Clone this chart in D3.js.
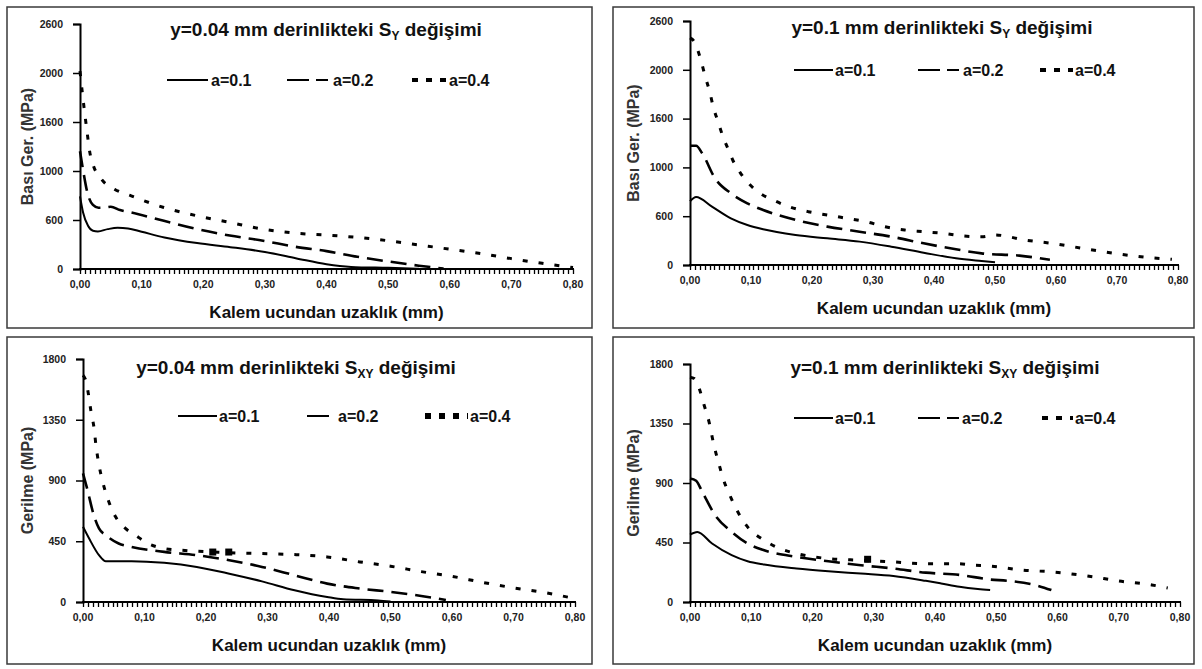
<!DOCTYPE html>
<html>
<head>
<meta charset="utf-8">
<script src="https://cdn.jsdelivr.net/npm/d3@7"></script>
<style>
  body { margin: 0; background: #fff; }
  svg { display: block; font-family: "Liberation Sans", Arial, sans-serif; }
</style>
</head>
<body>
<div id="container"></div>
<script>
// tick values and labels
var xTicks = [0, 0.1, 0.2, 0.3, 0.4, 0.5, 0.6, 0.7, 0.8];
var yTicksSY = [0, 520, 1040, 1560, 2080, 2600];
var yLabelsSY = ['0', '600', '1000', '1600', '2000', '2600'];
var yTicksSXY = [0, 450, 900, 1350, 1800];
var yLabelsSXY = ['0', '450', '900', '1350', '1800'];
var seriesNames = ['a=0.1', 'a=0.2', 'a=0.4'];

// S_Y, y=0.04 mm
var sy004_a01 = [[0,770],[0.005,600],[0.013,458],[0.021,406],[0.029,399],[0.045,423],[0.061,437],[0.078,430],[0.1,395],[0.137,335],[0.19,275],[0.244,232],[0.3,180],[0.35,115],[0.4,50],[0.44,22],[0.5,12],[0.55,3]];
var sy004_a02 = [[0,1250],[0.005,1050],[0.012,810],[0.021,680],[0.03,650],[0.04,652],[0.05,660],[0.065,625],[0.083,600],[0.136,511],[0.19,423],[0.243,355],[0.297,300],[0.35,235],[0.4,190],[0.45,130],[0.5,80],[0.55,35],[0.59,5]];
var sy004_a04 = [[0,2100],[0.005,1800],[0.011,1480],[0.016,1235],[0.021,1111],[0.035,952],[0.056,847],[0.083,776],[0.136,653],[0.19,564],[0.243,494],[0.297,423],[0.35,380],[0.4,360],[0.45,335],[0.5,300],[0.55,255],[0.6,210],[0.65,165],[0.7,110],[0.75,60],[0.8,15]];

// S_Y, y=0.1 mm
var sy01_a01 = [[0,680],[0.01,725],[0.036,622],[0.067,497],[0.094,426],[0.12,380],[0.173,320],[0.225,284],[0.278,249],[0.33,195],[0.383,131],[0.436,71],[0.478,43],[0.5,30]];
var sy01_a02 = [[0,1270],[0.01,1270],[0.02,1190],[0.041,924],[0.067,764],[0.094,657],[0.12,586],[0.173,480],[0.225,409],[0.278,355],[0.33,302],[0.383,231],[0.436,167],[0.478,124],[0.54,100],[0.59,55]];
var sy01_a04 = [[0,2420],[0.007,2380],[0.017,2202],[0.025,2007],[0.033,1829],[0.038,1687],[0.046,1527],[0.054,1368],[0.062,1243],[0.07,1119],[0.083,977],[0.096,870],[0.115,764],[0.136,693],[0.162,622],[0.194,568],[0.225,533],[0.257,497],[0.288,462],[0.32,408],[0.352,373],[0.383,355],[0.415,337],[0.446,310],[0.478,300],[0.5,320],[0.55,265],[0.6,225],[0.65,170],[0.7,120],[0.75,80],[0.79,60]];

// S_XY, y=0.04 mm
var sxy004_a01 = [[0,557],[0.01,470],[0.026,347],[0.037,302],[0.079,302],[0.132,290],[0.185,260],[0.238,210],[0.291,153],[0.344,87],[0.397,37],[0.423,20],[0.48,12],[0.5,3]];
var sxy004_a02 = [[0,953],[0.008,817],[0.016,668],[0.026,545],[0.037,495],[0.058,433],[0.079,408],[0.132,371],[0.185,347],[0.238,309],[0.291,260],[0.344,198],[0.397,136],[0.45,100],[0.5,75],[0.55,45],[0.59,15]];
var sxy004_a04 = [[0,1680],[0.005,1634],[0.009,1535],[0.013,1411],[0.018,1287],[0.021,1163],[0.026,1015],[0.032,891],[0.042,743],[0.053,631],[0.069,545],[0.085,495],[0.106,433],[0.132,396],[0.159,384],[0.212,371],[0.238,365],[0.291,359],[0.344,351],[0.397,334],[0.45,297],[0.5,265],[0.55,225],[0.6,190],[0.65,145],[0.7,105],[0.75,70],[0.8,25]];
var sxy004_marks = [[0.211,370],[0.237,370]];

// S_XY, y=0.1 mm
var sxy01_a01 = [[0,510],[0.012,530],[0.036,442],[0.068,354],[0.094,308],[0.121,283],[0.174,253],[0.226,232],[0.279,215],[0.332,197],[0.385,160],[0.41,140],[0.44,115],[0.47,98],[0.49,90]];
var sxy01_a02 = [[0,934],[0.01,917],[0.02,833],[0.041,657],[0.068,530],[0.094,442],[0.121,391],[0.174,341],[0.226,308],[0.279,278],[0.332,253],[0.385,222],[0.44,205],[0.49,170],[0.52,160],[0.57,120],[0.59,90]];
var sxy01_a04 = [[0,1700],[0.007,1690],[0.015,1616],[0.023,1490],[0.031,1364],[0.039,1187],[0.047,1048],[0.054,934],[0.065,808],[0.078,682],[0.094,568],[0.121,467],[0.147,404],[0.174,366],[0.226,328],[0.279,316],[0.332,303],[0.385,290],[0.436,290],[0.46,280],[0.49,272],[0.54,242],[0.594,227],[0.648,197],[0.7,159],[0.754,129],[0.78,106]];
var sxy01_marks = [[0.29,323]];

(function(){
  var W = 1202, H = 669;
  var svg = d3.select('#container').append('svg')
      .attr('width', W).attr('height', H);

  var styles = [
    {width: 2,   dash: null,       legDash: null},
    {width: 2.6, dash: '16,8',     legDash: '22,7,12'},
    {width: 3,   dash: '5,11',     legDash: '6,8'}
  ];

  var panels = [
    {box: [7, 7, 585, 321], x0: 80, x1: 573, yTop: 24, yZero: 269,
     ticks: yTicksSY, labels: yLabelsSY, yMax: 2600, yTitle: 'Bası Ger. (MPa)',
     title: ['y=0.04 mm derinlikteki S', 'Y', ' değişimi'], tx: 326, ty: 36,
     leg: {y: 80, dot: 4, items: [[167, 208, 211], [287, 331, 333], [412, 447, 449]]},
     series: [sy004_a01, sy004_a02, sy004_a04], marks: []},
    {box: [613, 7, 581, 321], x0: 690, x1: 1178, yTop: 21, yZero: 265,
     ticks: yTicksSY, labels: yLabelsSY, yMax: 2600, yTitle: 'Bası Ger. (MPa)',
     title: ['y=0.1 mm derinlikteki S', 'Y', ' değişimi'], tx: 942, ty: 34,
     leg: {y: 70, dot: 4, items: [[794, 833, 835], [918, 961, 963], [1040, 1073, 1075]]},
     series: [sy01_a01, sy01_a02, sy01_a04], marks: []},
    {box: [7, 337, 585, 327], x0: 83, x1: 575, yTop: 359, yZero: 602,
     ticks: yTicksSXY, labels: yLabelsSXY, yMax: 1800, yTitle: 'Gerilme (MPa)',
     title: ['y=0.04 mm derinlikteki S', 'XY', ' değişimi'], tx: 296, ty: 374,
     leg: {y: 416, dot: 6, items: [[178, 217, 219], [307, 336, 338], [425, 468, 470]]},
     series: [sxy004_a01, sxy004_a02, sxy004_a04], marks: sxy004_marks},
    {box: [613, 337, 581, 327], x0: 690, x1: 1180, yTop: 364, yZero: 602,
     ticks: yTicksSXY, labels: yLabelsSXY, yMax: 1800, yTitle: 'Gerilme (MPa)',
     title: ['y=0.1 mm derinlikteki S', 'XY', ' değişimi'], tx: 945, ty: 374,
     leg: {y: 418, dot: 4, items: [[794, 833, 835], [918, 960, 962], [1042, 1073, 1075]]},
     series: [sxy01_a01, sxy01_a02, sxy01_a04], marks: sxy01_marks}
  ];

  panels.forEach(drawPanel);

  function drawPanel(p) {
    var g = svg.append('g');

    g.append('rect')
      .attr('x', p.box[0]).attr('y', p.box[1])
      .attr('width', p.box[2]).attr('height', p.box[3])
      .attr('fill', '#fff').attr('stroke', '#3a3a3a').attr('stroke-width', 1.5);

    var x = d3.scaleLinear().domain([0, 0.8]).range([p.x0, p.x1]);
    var y = d3.scaleLinear().domain([0, p.yMax]).range([p.yZero, p.yTop]);

    // y axis
    var yAxis = d3.axisLeft(y)
      .tickValues(p.ticks)
      .tickFormat(function(d, i) { return p.labels[i]; })
      .tickSize(7).tickPadding(10);
    var ya = g.append('g').attr('transform', 'translate(' + p.x0 + ',0)').call(yAxis);
    ya.select('.domain').attr('stroke', '#000').attr('stroke-width', 2);
    ya.selectAll('.tick line').attr('stroke', '#000').attr('stroke-width', 1.5);
    ya.selectAll('.tick text')
      .attr('font-size', 10.5).attr('font-weight', 'bold').attr('fill', '#222');

    // x axis: many small ticks, labels every 0.1
    var minor = d3.range(0, 101).map(function(i) { return i * 0.008; });
    g.selectAll('.minor').data(minor).enter()
      .append('line')
      .attr('class', 'minor')
      .attr('x1', function(d) { return Math.round(x(d)) + 0.5; })
      .attr('x2', function(d) { return Math.round(x(d)) + 0.5; })
      .attr('y1', p.yZero).attr('y2', p.yZero + 5)
      .attr('stroke', '#000').attr('stroke-width', 1.3);
    g.append('line')
      .attr('x1', p.x0 - 1).attr('x2', p.x1 + 1)
      .attr('y1', p.yZero).attr('y2', p.yZero)
      .attr('stroke', '#000').attr('stroke-width', 2);

    g.selectAll('.xlab').data(xTicks).enter()
      .append('text')
      .attr('class', 'xlab')
      .attr('x', function(d) { return x(d); })
      .attr('y', p.yZero + 19)
      .attr('text-anchor', 'middle')
      .attr('font-size', 10.5).attr('font-weight', 'bold').attr('fill', '#222')
      .text(function(d) { return d3.format('.2f')(d).replace('.', ','); });

    g.append('text')
      .attr('x', (p.x0 + p.x1) / 2).attr('y', p.yZero + 49)
      .attr('text-anchor', 'middle')
      .attr('font-size', 17).attr('font-weight', 'bold').attr('fill', '#111')
      .text('Kalem ucundan uzaklık (mm)');

    g.append('text')
      .attr('transform', 'translate(' + (p.box[0] + 26) + ',' + ((p.yTop + p.yZero) / 2) + ') rotate(-90)')
      .attr('text-anchor', 'middle')
      .attr('font-size', 16).attr('font-weight', 'bold').attr('fill', '#333')
      .text(p.yTitle);

    // title with subscript
    var t = g.append('text')
      .attr('x', p.tx).attr('y', p.ty)
      .attr('text-anchor', 'middle')
      .attr('font-size', 19).attr('font-weight', 'bold').attr('fill', '#111');
    t.append('tspan').text(p.title[0]);
    t.append('tspan').attr('dy', 4).attr('font-size', 12).text(p.title[1]);
    t.append('tspan').attr('dy', -4).text(p.title[2]);

    // series
    var line = d3.line()
      .x(function(d) { return x(d[0]); })
      .y(function(d) { return y(d[1]); })
      .curve(d3.curveMonotoneX);

    p.series.forEach(function(s, i) {
      g.append('path')
        .datum(s)
        .attr('d', line)
        .attr('fill', 'none')
        .attr('stroke', '#000')
        .attr('stroke-width', styles[i].width)
        .attr('stroke-dasharray', styles[i].dash);
    });

    g.selectAll('.mark').data(p.marks).enter()
      .append('rect')
      .attr('x', function(d) { return x(d[0]) - 3.5; })
      .attr('y', function(d) { return y(d[1]) - 3.5; })
      .attr('width', 7).attr('height', 7)
      .attr('fill', '#000');

    // legend
    p.leg.items.forEach(function(it, i) {
      g.append('line')
        .attr('x1', it[0]).attr('x2', it[1])
        .attr('y1', p.leg.y).attr('y2', p.leg.y)
        .attr('stroke', '#000')
        .attr('stroke-width', i === 2 ? p.leg.dot : 2)
        .attr('stroke-dasharray', styles[i].legDash);
      g.append('text')
        .attr('x', it[2]).attr('y', p.leg.y + 6)
        .attr('font-size', 16).attr('font-weight', 'bold').attr('fill', '#111')
        .text(seriesNames[i]);
    });
  }
}());
</script>
</body>
</html>
